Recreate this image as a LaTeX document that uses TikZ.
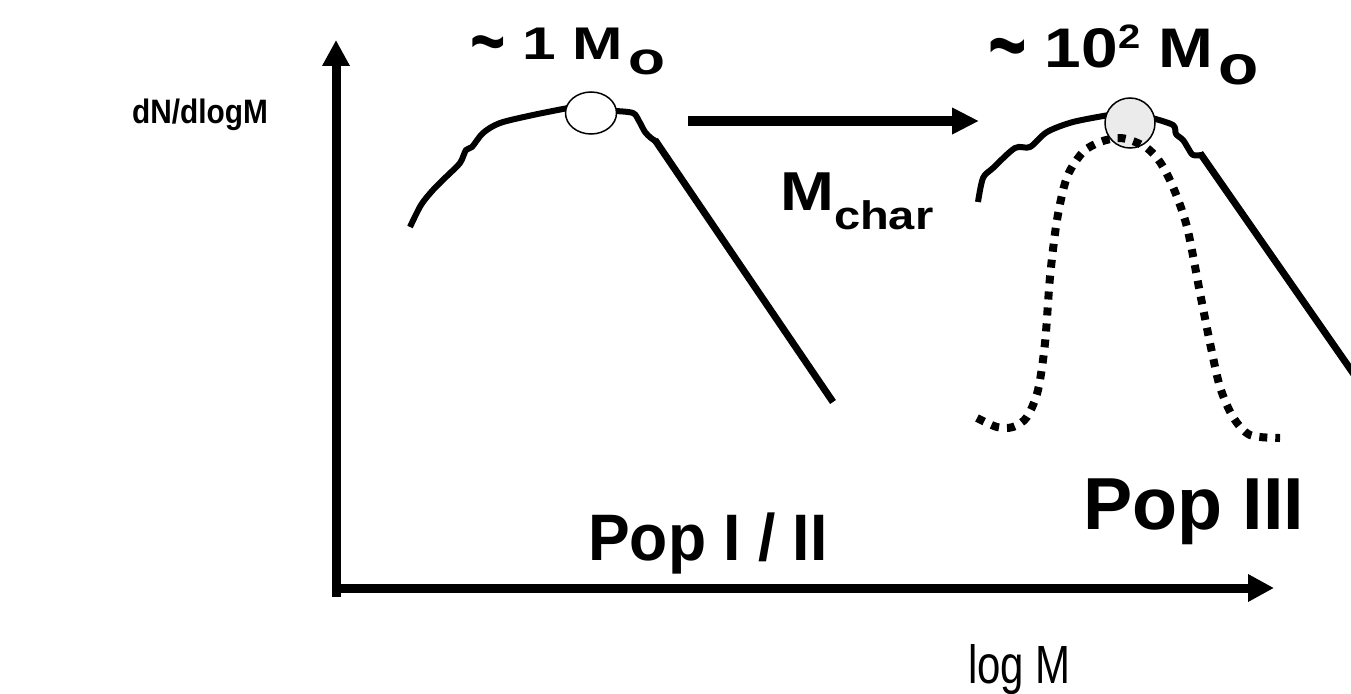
\documentclass[tikz,border=0pt]{standalone}
\usepackage{fontspec}
\setmainfont{Liberation Sans}
\usetikzlibrary{arrows.meta,shapes.geometric}
\newcommand{\bigtilde}[1]{\raisebox{#1}{\scalebox{1}[1.8]{\textasciitilde}}}
\begin{document}
\begin{tikzpicture}[x=1bp,y=-1bp,
  axis/.style={line width=9bp,-{Triangle[length=26bp,width=26bp]}},
  curve/.style={line width=6bp, line join=round, line cap=butt},
  tail/.style={line width=7bp},
  dots/.style={line width=8bp, dash pattern=on 8bp off 8bp},
  lbl/.style={inner sep=0pt, anchor=base west, font=\bfseries}
]
\useasboundingbox (0,0) rectangle (1351,693);
\clip (0,0) rectangle (1351,693);

% axes
\coordinate (origin) at (336,597);
\coordinate (ytip) at (336,40);
\coordinate (xstart) at (332,588);
\coordinate (xtip) at (1274,588);
\draw[axis] (origin) -- (ytip);
\draw[axis] (xstart) -- (xtip);

% Pop I/II curve
\draw[curve] plot[smooth, tension=0.5] coordinates {(410,227) (421,205) (433,190) (447,176) (460,163) (466,150) (472,147) (483,133) (500,123) (533,115) (568,108)};
\draw[curve] plot[smooth, tension=0.5] coordinates {(615,111) (633,113) (639,121) (645,132) (651,138) (657,142)};
\coordinate (tailAs) at (655,140);
\coordinate (tailAe) at (833,402);
\draw[tail] (tailAs) -- (tailAe);
\node[ellipse, draw, line width=1.5bp, fill=white, minimum width=51bp, minimum height=42bp, inner sep=0pt] (peakA) at (591,113) {};

% Pop III curve
\draw[curve] plot[smooth, tension=0.5] coordinates {(978,202) (983,178) (993,168) (1015,148) (1030,147) (1047,132) (1073,122) (1109,115)};
\draw[curve] plot[smooth, tension=0.5] coordinates {(1152,118) (1173,125) (1176,134) (1183,140) (1188,148) (1193,155) (1202,155)};
\coordinate (tailBs) at (1200,153);
\coordinate (tailBe) at (1360,383);
\draw[tail] (tailBs) -- (tailBe);
\node[circle, draw, line width=1.5bp, fill=black!8, minimum size=50bp, inner sep=0pt] (peakB) at (1130,123) {};
\draw[dots] plot[smooth, tension=0.5] coordinates {(977,418) (997,427) (1013,427) (1027,417) (1038,390) (1045,343) (1050,277) (1057,220) (1067,177) (1083,152) (1100,142) (1117,138) (1130,140) (1147,148) (1160,162) (1173,187) (1187,227) (1200,293) (1210,343) (1220,387) (1233,417) (1250,435) (1280,438)};

% M_char arrow
\coordinate (ma) at (688,121);
\coordinate (mb) at (979,121);
\draw[line width=9bp,-{Triangle[length=27bp,width=25bp]}] (ma) -- (mb);

% labels
\node[lbl, font=\bfseries\fontsize{34}{34}\selectfont] (ylab) at (132,124) {\scalebox{0.88}[1]{dN/dlogM}};
\node[lbl, font=\bfseries\fontsize{46}{46}\selectfont] (m1) at (470,60) {\scalebox{1.32}[1]{\bigtilde{-10bp} 1 M\hspace{4bp}\raisebox{-15bp}{o}}};
\node[lbl, font=\bfseries\fontsize{56}{56}\selectfont] (m2) at (988,68) {\scalebox{1.18}[1]{\bigtilde{-12bp} 10\raisebox{19bp}{\fontsize{34}{34}\selectfont 2} M\hspace{4bp}\raisebox{-17bp}{o}}};
\node[lbl, font=\bfseries\fontsize{55}{55}\selectfont] (mchar) at (780,210) {\scalebox{1.18}[1]{M\raisebox{-19bp}{\fontsize{40}{40}\selectfont char}}};
\node[lbl, font=\bfseries\fontsize{66}{66}\selectfont] (pop12) at (588,560) {\scalebox{0.95}[1]{Pop I / II}};
\node[lbl, font=\bfseries\fontsize{74}{74}\selectfont] (pop3) at (1083,529) {Pop III};
\node[inner sep=0pt, anchor=base west, font=\fontsize{54}{54}\selectfont] (logm) at (968,683) {\scalebox{0.78}[1]{log M}};
\end{tikzpicture}
\end{document}
